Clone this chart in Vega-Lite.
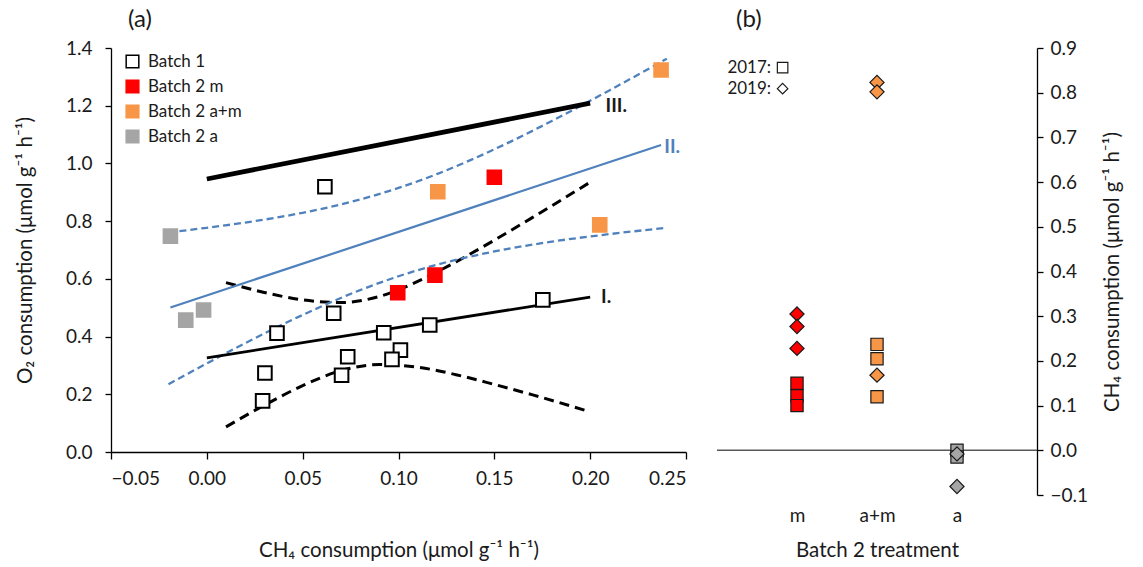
{
  "$schema": "https://vega.github.io/schema/vega-lite/v6.json",
  "background": "white",
  "padding": {"left": 15, "top": 8, "right": 5, "bottom": 5},
  "bounds": "flush",
  "spacing": 31,
  "resolve": {"scale": {"fill": "independent", "stroke": "independent", "shape": "independent", "size": "independent", "color": "independent"}, "legend": {"fill": "independent", "stroke": "independent"}},
  "config": {
    "font": "Lato",
    "view": {"stroke": null},
    "axis": {"grid": false, "domainColor": "#000000", "tickColor": "#000000", "labelColor": "#1a1a1a", "titleColor": "#1a1a1a", "labelFontSize": 19, "titleFontSize": 20.5, "titleFontWeight": "normal", "domainWidth": 1.3, "tickWidth": 1.3},
    "legend": {"labelFontSize": 17, "labelColor": "#1a1a1a"}
  },
  "datasets": {
    "pointsA": [
      {"series": "Batch 1", "x": 0.0616, "y": 0.919},
      {"series": "Batch 1", "x": 0.0366, "y": 0.412},
      {"series": "Batch 1", "x": 0.0662, "y": 0.481},
      {"series": "Batch 1", "x": 0.0303, "y": 0.274},
      {"series": "Batch 1", "x": 0.0291, "y": 0.177},
      {"series": "Batch 1", "x": 0.0735, "y": 0.330},
      {"series": "Batch 1", "x": 0.0703, "y": 0.266},
      {"series": "Batch 1", "x": 0.0923, "y": 0.413},
      {"series": "Batch 1", "x": 0.101, "y": 0.353},
      {"series": "Batch 1", "x": 0.0966, "y": 0.321},
      {"series": "Batch 1", "x": 0.1163, "y": 0.440},
      {"series": "Batch 1", "x": 0.1753, "y": 0.527},
      {"series": "Batch 2 m", "x": 0.0996, "y": 0.552},
      {"series": "Batch 2 m", "x": 0.119, "y": 0.613},
      {"series": "Batch 2 m", "x": 0.150, "y": 0.952},
      {"series": "Batch 2 a+m", "x": 0.1205, "y": 0.902},
      {"series": "Batch 2 a+m", "x": 0.205, "y": 0.787},
      {"series": "Batch 2 a+m", "x": 0.237, "y": 1.324},
      {"series": "Batch 2 a", "x": -0.019, "y": 0.748},
      {"series": "Batch 2 a", "x": -0.0017, "y": 0.492},
      {"series": "Batch 2 a", "x": -0.011, "y": 0.457}
    ],
    "lines": [
      {"curve": "III", "x": 0.0, "y": 0.946},
      {"curve": "III", "x": 0.2, "y": 1.209},
      {"curve": "I", "x": 0.0, "y": 0.326},
      {"curve": "I", "x": 0.2, "y": 0.537},
      {"curve": "II", "x": -0.019, "y": 0.501},
      {"curve": "II", "x": 0.237, "y": 1.064},
      {"curve": "I upper", "x": 0.01, "y": 0.587},
      {"curve": "I upper", "x": 0.03, "y": 0.553},
      {"curve": "I upper", "x": 0.05, "y": 0.527},
      {"curve": "I upper", "x": 0.07, "y": 0.518},
      {"curve": "I upper", "x": 0.09, "y": 0.539},
      {"curve": "I upper", "x": 0.11, "y": 0.591},
      {"curve": "I upper", "x": 0.13, "y": 0.659},
      {"curve": "I upper", "x": 0.15, "y": 0.734},
      {"curve": "I upper", "x": 0.17, "y": 0.813},
      {"curve": "I upper", "x": 0.2, "y": 0.935},
      {"curve": "I lower", "x": 0.01, "y": 0.087},
      {"curve": "I lower", "x": 0.03, "y": 0.162},
      {"curve": "I lower", "x": 0.05, "y": 0.230},
      {"curve": "I lower", "x": 0.07, "y": 0.282},
      {"curve": "I lower", "x": 0.09, "y": 0.303},
      {"curve": "I lower", "x": 0.11, "y": 0.294},
      {"curve": "I lower", "x": 0.13, "y": 0.268},
      {"curve": "I lower", "x": 0.15, "y": 0.234},
      {"curve": "I lower", "x": 0.17, "y": 0.198},
      {"curve": "I lower", "x": 0.2, "y": 0.139},
      {"curve": "II upper", "x": -0.02, "y": 0.761},
      {"curve": "II upper", "x": 0.0, "y": 0.777},
      {"curve": "II upper", "x": 0.02, "y": 0.795},
      {"curve": "II upper", "x": 0.05, "y": 0.829},
      {"curve": "II upper", "x": 0.08, "y": 0.875},
      {"curve": "II upper", "x": 0.1, "y": 0.915},
      {"curve": "II upper", "x": 0.12, "y": 0.963},
      {"curve": "II upper", "x": 0.15, "y": 1.049},
      {"curve": "II upper", "x": 0.18, "y": 1.147},
      {"curve": "II upper", "x": 0.21, "y": 1.253},
      {"curve": "II upper", "x": 0.24, "y": 1.363},
      {"curve": "II lower", "x": -0.02, "y": 0.235},
      {"curve": "II lower", "x": 0.0, "y": 0.307},
      {"curve": "II lower", "x": 0.02, "y": 0.377},
      {"curve": "II lower", "x": 0.05, "y": 0.475},
      {"curve": "II lower", "x": 0.08, "y": 0.561},
      {"curve": "II lower", "x": 0.1, "y": 0.609},
      {"curve": "II lower", "x": 0.12, "y": 0.649},
      {"curve": "II lower", "x": 0.15, "y": 0.695},
      {"curve": "II lower", "x": 0.18, "y": 0.729},
      {"curve": "II lower", "x": 0.21, "y": 0.755},
      {"curve": "II lower", "x": 0.24, "y": 0.777}
    ],
    "lineLabels": [
      {"label": "III.", "x": 0.208, "y": 1.2},
      {"label": "II.", "x": 0.2387, "y": 1.057},
      {"label": "I.", "x": 0.2057, "y": 0.537}
    ],
    "pointsB": [
      {"treatment": "m", "pos": 1, "year": "2019", "y": 0.305},
      {"treatment": "m", "pos": 1, "year": "2019", "y": 0.277},
      {"treatment": "m", "pos": 1, "year": "2019", "y": 0.228},
      {"treatment": "m", "pos": 1, "year": "2017", "y": 0.150},
      {"treatment": "m", "pos": 1, "year": "2017", "y": 0.122},
      {"treatment": "m", "pos": 1, "year": "2017", "y": 0.100},
      {"treatment": "a+m", "pos": 2, "year": "2019", "y": 0.823},
      {"treatment": "a+m", "pos": 2, "year": "2019", "y": 0.802},
      {"treatment": "a+m", "pos": 2, "year": "2019", "y": 0.168},
      {"treatment": "a+m", "pos": 2, "year": "2017", "y": 0.237},
      {"treatment": "a+m", "pos": 2, "year": "2017", "y": 0.205},
      {"treatment": "a+m", "pos": 2, "year": "2017", "y": 0.120},
      {"treatment": "a", "pos": 3, "year": "2017", "y": 0.0},
      {"treatment": "a", "pos": 3, "year": "2017", "y": -0.015},
      {"treatment": "a", "pos": 3, "year": "2019", "y": -0.008},
      {"treatment": "a", "pos": 3, "year": "2019", "y": -0.081}
    ],
    "notesB": [
      {"text": "2017:", "year": "2017", "pos": 0.13, "symPos": 0.82, "y": 0.856},
      {"text": "2019:", "year": "2019", "pos": 0.13, "symPos": 0.82, "y": 0.809}
    ],
    "zeroB": [{"y": 0}]
  },
  "hconcat": [
    {
      "width": 575,
      "height": 404,
      "title": {"text": "(a)", "anchor": "start", "frame": "group", "dx": 17, "fontSize": 24, "fontWeight": "normal", "offset": 7, "color": "#1a1a1a"},
      "encoding": {
        "x": {"field": "x", "type": "quantitative", "scale": {"domain": [-0.05, 0.25], "nice": false, "zero": false},
          "axis": {"values": [-0.05, 0, 0.05, 0.1, 0.15, 0.2, 0.25], "format": ".2f", "title": "CH₄ consumption (μmol g⁻¹ h⁻¹)", "tickSize": 7, "labelPadding": 10, "titlePadding": 52}},
        "y": {"field": "y", "type": "quantitative", "scale": {"domain": [0, 1.4], "nice": false},
          "axis": {"values": [0, 0.2, 0.4, 0.6, 0.8, 1.0, 1.2, 1.4], "format": ".1f", "title": "O₂ consumption (μmol g⁻¹ h⁻¹)", "tickSize": 6, "labelPadding": 13, "titlePadding": 30}}
      },
      "layer": [
        {"data": {"name": "lines"}, "transform": [{"filter": "datum.curve === 'I upper' || datum.curve === 'I lower'"}],
          "mark": {"type": "line", "color": "#000000", "strokeWidth": 3, "strokeDash": [10, 6], "interpolate": "monotone"},
          "encoding": {"detail": {"field": "curve"}}},
        {"data": {"name": "lines"}, "transform": [{"filter": "datum.curve === 'II upper' || datum.curve === 'II lower'"}],
          "mark": {"type": "line", "color": "#4F81BD", "strokeWidth": 2.3, "strokeDash": [7, 4], "interpolate": "monotone"},
          "encoding": {"detail": {"field": "curve"}}},
        {"data": {"name": "lines"}, "transform": [{"filter": "datum.curve === 'II'"}],
          "mark": {"type": "line", "color": "#4F81BD", "strokeWidth": 2.2}, "encoding": {}},
        {"data": {"name": "lines"}, "transform": [{"filter": "datum.curve === 'I'"}],
          "mark": {"type": "line", "color": "#000000", "strokeWidth": 2.8}, "encoding": {}},
        {"data": {"name": "lines"}, "transform": [{"filter": "datum.curve === 'III'"}],
          "mark": {"type": "line", "color": "#000000", "strokeWidth": 4.8}, "encoding": {}},
        {"data": {"name": "pointsA"},
          "mark": {"type": "square", "size": 185, "strokeWidth": 2, "opacity": 1},
          "encoding": {
            "fill": {"field": "series", "type": "nominal",
              "scale": {"domain": ["Batch 1", "Batch 2 m", "Batch 2 a+m", "Batch 2 a"], "range": ["#ffffff", "#ff0000", "#f79646", "#a5a5a5"]},
              "legend": {"title": null, "orient": "none", "legendX": 13, "legendY": 5, "symbolType": "square", "symbolSize": 160, "labelOffset": 7, "rowPadding": 6, "padding": 0,
                "encode": {"symbols": {"update": {"stroke": {"signal": "datum.value === 'Batch 1' ? '#000000' : 'transparent'"}, "strokeWidth": {"value": 1.8}}}}}},
            "stroke": {"field": "series", "type": "nominal",
              "scale": {"domain": ["Batch 1", "Batch 2 m", "Batch 2 a+m", "Batch 2 a"], "range": ["#000000", "#ff0000", "#f79646", "#a5a5a5"]},
              "legend": null}
          }},
        {"data": {"name": "lineLabels"},
          "mark": {"type": "text", "align": "left", "baseline": "middle", "fontSize": 19, "fontWeight": "bold"},
          "encoding": {"text": {"field": "label"},
            "color": {"field": "label", "type": "nominal", "scale": {"domain": ["I.", "II.", "III."], "range": ["#1a1a1a", "#4F81BD", "#1a1a1a"]}, "legend": null}}}
      ]
    },
    {
      "width": 320,
      "height": 447,
      "title": {"text": "(b)", "anchor": "start", "frame": "group", "dx": 19, "fontSize": 24, "fontWeight": "normal", "offset": 7, "color": "#1a1a1a"},
      "encoding": {
        "y": {"field": "y", "type": "quantitative", "scale": {"domain": [-0.1, 0.9], "nice": false, "zero": false},
          "axis": {"orient": "right", "values": [-0.1, 0, 0.1, 0.2, 0.3, 0.4, 0.5, 0.6, 0.7, 0.8, 0.9], "format": ".1f", "title": "CH₄ consumption (μmol g⁻¹ h⁻¹)", "titleAngle": -90, "tickSize": 6, "labelPadding": 7, "titlePadding": 35}}
      },
      "layer": [
        {"data": {"name": "zeroB"}, "mark": {"type": "rule", "color": "#595959", "strokeWidth": 1.5}},
        {"data": {"name": "pointsB"},
          "mark": {"type": "point", "filled": true, "opacity": 1, "stroke": "#1a1a1a", "strokeWidth": 1.2},
          "encoding": {
            "x": {"field": "pos", "type": "quantitative", "scale": {"domain": [0, 4], "nice": false, "zero": false},
              "axis": {"values": [1, 2, 3], "labelExpr": "datum.value == 1 ? 'm' : datum.value == 2 ? 'a+m' : datum.value == 3 ? 'a' : ''", "domain": false, "ticks": false, "labelPadding": 11, "title": "Batch 2 treatment", "titlePadding": 15}},
            "shape": {"field": "year", "type": "nominal", "scale": {"domain": ["2017", "2019"], "range": ["square", "diamond"]}, "legend": null},
            "size": {"field": "year", "type": "nominal", "scale": {"domain": ["2017", "2019"], "range": [150, 200]}, "legend": null},
            "fill": {"field": "treatment", "type": "nominal", "scale": {"domain": ["m", "a+m", "a"], "range": ["#ff0000", "#f79646", "#a5a5a5"]}, "legend": null}
          }},
        {"data": {"name": "notesB"},
          "mark": {"type": "text", "align": "left", "baseline": "middle", "fontSize": 17, "color": "#1a1a1a"},
          "encoding": {"x": {"field": "pos", "type": "quantitative"}, "text": {"field": "text"}}},
        {"data": {"name": "notesB"},
          "mark": {"type": "point", "filled": false, "opacity": 1, "color": "#1a1a1a", "strokeWidth": 1.2, "size": 110},
          "encoding": {"x": {"field": "symPos", "type": "quantitative"}, "shape": {"field": "year", "type": "nominal", "legend": null}}}
      ]
    }
  ]
}
